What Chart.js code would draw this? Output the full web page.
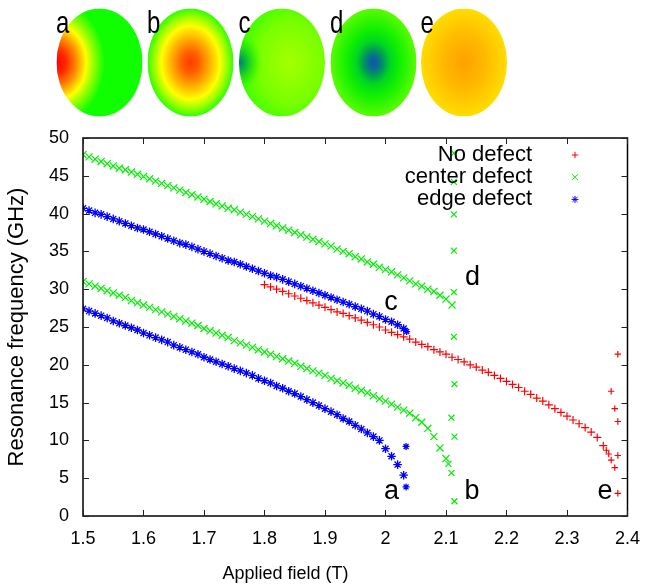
<!DOCTYPE html>
<html>
<head>
<meta charset="utf-8">
<script src="https://cdn.jsdelivr.net/npm/chart.js@4.4.0/dist/chart.umd.min.js"></script>
<style>
  html, body { margin: 0; padding: 0; background: #fff; }
</style>
</head>
<body>
<canvas id="chart" width="652" height="584"></canvas>
<script>
// Field grid step (T) used by the regularly sampled branches
const fieldStep = 0.01;

// No defect: one branch from 1.80 T, then the scattered points near 2.38 T
const noDefectStart = 1.80;
const noDefectFreq = [
  30.6, 30.3, 30.0, 29.7, 29.4, 29.1, 28.8, 28.5, 28.2, 27.9,
  27.6, 27.3, 27.0, 26.8, 26.5, 26.2, 25.9, 25.6, 25.3, 25.0,
  24.6, 24.3, 24.0, 23.7, 23.4, 23.0, 22.7, 22.4, 22.0, 21.7,
  21.4, 21.0, 20.7, 20.4, 20.0, 19.7, 19.3, 19.0, 18.6, 18.2,
  17.8, 17.4, 17.0, 16.5, 16.1, 15.6, 15.2, 14.7, 14.2, 13.7,
  13.2, 12.7, 12.2, 11.7, 11.1, 10.4, 9.3
];
const noDefectExtraField = [2.365, 2.369, 2.373, 2.379, 2.384, 2.373, 2.379, 2.384, 2.384, 2.384];
const noDefectExtraFreq  = [8.7, 8.2, 7.4, 6.4, 21.4, 16.5, 14.2, 12.5, 8.0, 3.0];

// Center defect: two branches from 1.50 T plus the column of points at ~2.11 T
const centerStart = 1.50;
const centerUpperFreq = [
  47.8, 47.5, 47.2, 46.9, 46.6, 46.3, 46.0, 45.8, 45.5, 45.2,
  44.9, 44.6, 44.3, 44.0, 43.7, 43.4, 43.1, 42.8, 42.5, 42.2,
  41.9, 41.6, 41.3, 41.0, 40.7, 40.5, 40.2, 39.9, 39.6, 39.3,
  39.0, 38.7, 38.4, 38.1, 37.8, 37.5, 37.2, 36.9, 36.6, 36.3,
  36.0, 35.7, 35.3, 35.0, 34.7, 34.3, 34.0, 33.6, 33.3, 32.9,
  32.6, 32.3, 31.9, 31.5, 31.1, 30.7, 30.4, 30.0, 29.7, 29.2,
  28.7, 27.9
];
const centerLowerFreq = [
  31.0, 30.7, 30.4, 30.1, 29.8, 29.5, 29.2, 28.9, 28.5, 28.2,
  27.9, 27.6, 27.3, 27.0, 26.7, 26.4, 26.1, 25.8, 25.5, 25.2,
  24.8, 24.5, 24.2, 23.9, 23.6, 23.2, 22.9, 22.6, 22.3, 22.0,
  21.7, 21.4, 21.1, 20.8, 20.5, 20.2, 19.8, 19.5, 19.2, 18.9,
  18.6, 18.2, 17.9, 17.6, 17.3, 16.9, 16.6, 16.3, 15.9, 15.5,
  15.2, 14.8, 14.4, 14.0, 13.6, 13.0, 12.4, 11.6, 10.5, 9.0,
  7.6
];
const centerExtraField = [2.104, 2.113, 2.113, 2.113, 2.113, 2.113, 2.113, 2.114, 2.109, 2.114, 2.109, 2.114];
const centerExtraFreq  = [6.9, 48.0, 44.2, 39.9, 35.1, 29.6, 23.7, 17.45, 13.0, 10.5, 5.7, 1.95];

// Edge defect: two branches from 1.50 T plus a few points at ~2.03 T
const edgeStart = 1.50;
const edgeUpperFreq = [
  40.7, 40.4, 40.1, 39.9, 39.6, 39.3, 39.0, 38.7, 38.4, 38.1,
  37.9, 37.6, 37.3, 37.0, 36.7, 36.4, 36.1, 35.9, 35.6, 35.3,
  35.0, 34.7, 34.4, 34.1, 33.8, 33.6, 33.3, 33.0, 32.7, 32.4,
  32.1, 31.8, 31.6, 31.3, 31.0, 30.7, 30.4, 30.1, 29.8, 29.5,
  29.2, 28.9, 28.6, 28.3, 28.0, 27.7, 27.4, 27.1, 26.7, 26.4,
  26.0, 25.7, 25.3, 24.8
];
const edgeLowerFreq = [
  27.4, 27.1, 26.8, 26.5, 26.2, 25.8, 25.5, 25.2, 24.9, 24.6,
  24.2, 23.9, 23.6, 23.3, 23.0, 22.6, 22.3, 22.0, 21.7, 21.4,
  21.0, 20.7, 20.4, 20.1, 19.8, 19.5, 19.2, 18.9, 18.6, 18.2,
  17.9, 17.6, 17.2, 16.9, 16.5, 16.2, 15.8, 15.4, 15.0, 14.6,
  14.2, 13.8, 13.4, 12.9, 12.5, 12.0, 11.5, 11.0, 10.5, 10.0,
  8.9, 7.9, 6.8, 5.4
];
const edgeExtraField = [2.035, 2.034, 2.034];
const edgeExtraFreq  = [24.4, 9.2, 3.85];

// Mode labels inside the plot (data coordinates of the letter baseline)
const modeLabels = ['a', 'b', 'c', 'd', 'e'];
const modeLabelField = [2.010, 2.143, 2.009, 2.144, 2.363];
const modeLabelFreq  = [2.2, 2.2, 27.3, 30.6, 2.2];

const seriesLabels = ['No defect', 'center defect', 'edge defect'];

// Build {x,y} points from a regular field grid plus irregular extras
function gridPoints(start, freqs) {
  return freqs.map((f, i) => ({ x: +(start + i * fieldStep).toFixed(3), y: f, branch: true }));
}
function pairPoints(fields, freqs) {
  return fields.map((b, i) => ({ x: b, y: freqs[i], branch: false }));
}

const FONT = '"Liberation Sans", Arial, sans-serif';

// Disk images at the top (mode profiles), drawn as radial gradients
const diskCx = [99.5, 190.5, 282, 373.5, 464];
const diskCy = 62.5, diskRx = 43, diskRy = 54;
const diskLayers = [
  [{ x: -43, y: 0, r: 48, stops: [[0, '#ff0000'], [0.2, '#ff2a00'], [0.42, '#ff9000'], [0.62, '#ffff00'], [0.78, '#90ff00'], [1, '#10ff00']] }],
  [{ x: 0, y: 0, r: 43, stops: [[0, '#ff3c00'], [0.2, '#ff6000'], [0.45, '#ffb000'], [0.68, '#ffff00'], [0.85, '#99ff00'], [1, '#30ff00']] }],
  [{ x: 8, y: 0, r: 55, stops: [[0, '#a6ff00'], [0.6, '#77ff00'], [1, '#33ff00']] },
   { x: -43, y: 0, r: 24, stops: [[0, 'rgba(0,120,120,1)'], [0.3, 'rgba(0,175,70,0.85)'], [0.7, 'rgba(20,230,0,0.45)'], [1, 'rgba(60,255,0,0)']] }],
  [{ x: 0, y: 0, r: 48, stops: [[0, '#0a5aa0'], [0.1, '#0a6a96'], [0.22, '#00a050'], [0.36, '#00d820'], [0.55, '#10f000'], [1, '#70ff00']] }],
  [{ x: 0, y: 0, r: 45, stops: [[0, '#ffa000'], [0.5, '#ffbb00'], [1, '#ffe000']] }]
];

const disksPlugin = {
  id: 'disks',
  afterDraw(chart) {
    const ctx = chart.ctx;
    diskCx.forEach((cx, i) => {
      ctx.save();
      ctx.translate(cx, diskCy);
      ctx.scale(1, diskRy / diskRx);
      ctx.beginPath();
      ctx.arc(0, 0, diskRx, 0, Math.PI * 2);
      ctx.clip();
      diskLayers[i].forEach(L => {
        const g = ctx.createRadialGradient(L.x, L.y, 0, L.x, L.y, L.r);
        L.stops.forEach(([o, c]) => g.addColorStop(o, c));
        ctx.fillStyle = g;
        ctx.fillRect(-diskRx, -diskRx, 2 * diskRx, 2 * diskRx);
      });
      ctx.restore();
      // letter in the top-left corner of each image
      ctx.save();
      ctx.translate(cx - 43.5, 32.7);
      ctx.scale(1, 1.3);
      ctx.font = '24px ' + FONT;
      ctx.fillStyle = '#000';
      ctx.textAlign = 'left';
      ctx.textBaseline = 'alphabetic';
      ctx.fillText(modeLabels[i], 0, 0);
      ctx.restore();
    });
  }
};

// Border box, inward ticks, mode letters, key and x title
const framePlugin = {
  id: 'frame',
  afterDatasetsDraw(chart) {
    const ctx = chart.ctx;
    const { left, right, top, bottom } = chart.chartArea;
    const xs = chart.scales.x, ys = chart.scales.y;
    ctx.save();
    ctx.strokeStyle = '#000';
    ctx.lineWidth = 1.5;
    ctx.strokeRect(left, top, right - left, bottom - top);
    ctx.lineWidth = 1;
    ctx.strokeStyle = '#222';
    ctx.beginPath();
    xs.ticks.forEach(t => {
      const px = Math.round(xs.getPixelForValue(t.value)) + 0.5;
      ctx.moveTo(px, bottom); ctx.lineTo(px, bottom - 6);
      ctx.moveTo(px, top); ctx.lineTo(px, top + 6);
    });
    ys.ticks.forEach(t => {
      const py = Math.round(ys.getPixelForValue(t.value)) + 0.5;
      ctx.moveTo(left, py); ctx.lineTo(left + 6, py);
      ctx.moveTo(right, py); ctx.lineTo(right - 6, py);
    });
    ctx.stroke();

    // letters marking the mode profiles
    ctx.fillStyle = '#000';
    ctx.font = '27px ' + FONT;
    ctx.textAlign = 'center';
    ctx.textBaseline = 'alphabetic';
    modeLabels.forEach((s, i) => {
      ctx.fillText(s, xs.getPixelForValue(modeLabelField[i]), ys.getPixelForValue(modeLabelFreq[i]));
    });

    // key, text right-aligned with the symbol on its right
    ctx.font = '22px ' + FONT;
    ctx.textAlign = 'right';
    ctx.textBaseline = 'middle';
    chart.data.datasets.forEach((ds, i) => {
      const y = 155 + i * 22.2;
      ctx.fillStyle = '#000';
      ctx.fillText(ds.label, 532, y);
      ctx.strokeStyle = ds.borderColor;
      ctx.fillStyle = ds.borderColor;
      ctx.lineWidth = 1;
      Chart.helpers.drawPoint(ctx, { pointStyle: ds.pointStyle, radius: ds.keyRadius, borderWidth: 1, rotation: 0 }, 575, y);
    });

    // x axis title
    ctx.fillStyle = '#000';
    ctx.font = '18px ' + FONT;
    ctx.textAlign = 'center';
    ctx.textBaseline = 'alphabetic';
    ctx.fillText('Applied field (T)', 285.5, 579);
    ctx.restore();
  }
};

// branch points are drawn a bit larger so they merge into bands as in the original
const radiusBy = (branchR, loneR) => c => (c.raw && c.raw.branch ? branchR : loneR);

const datasets = [
  {
    label: seriesLabels[0],
    data: gridPoints(noDefectStart, noDefectFreq).concat(pairPoints(noDefectExtraField, noDefectExtraFreq)),
    borderColor: '#ff0000', backgroundColor: '#ff0000',
    pointStyle: 'cross', pointRadius: radiusBy(4, 3.2), keyRadius: 3.2,
    borderWidth: 1.2, order: 3
  },
  {
    label: seriesLabels[1],
    data: gridPoints(centerStart, centerUpperFreq)
      .concat(gridPoints(centerStart, centerLowerFreq))
      .concat(pairPoints(centerExtraField, centerExtraFreq)),
    borderColor: '#00ee00', backgroundColor: '#00ee00',
    pointStyle: 'crossRot', pointRadius: radiusBy(5, 4.2), keyRadius: 4.2,
    borderWidth: 1.2, order: 2
  },
  {
    label: seriesLabels[2],
    data: gridPoints(edgeStart, edgeUpperFreq)
      .concat(gridPoints(edgeStart, edgeLowerFreq))
      .concat(pairPoints(edgeExtraField, edgeExtraFreq)),
    borderColor: '#0000ff', backgroundColor: '#0000ff',
    pointStyle: 'star', pointRadius: radiusBy(4.3, 3.5), keyRadius: 3.5,
    borderWidth: 1.3, order: 1
  }
];

new Chart(document.getElementById('chart'), {
  type: 'scatter',
  data: { datasets },
  options: {
    responsive: false,
    animation: false,
    events: [],
    layout: { padding: { top: 138, right: 20, left: 0, bottom: 0 } },
    plugins: { legend: { display: false }, tooltip: { enabled: false } },
    scales: {
      x: {
        type: 'linear', min: 1.5, max: 2.4,
        grid: { display: false, drawTicks: false },
        border: { display: false },
        ticks: {
          stepSize: 0.1, padding: 12, color: '#000',
          font: { family: FONT, size: 18 },
          callback: v => String(+v.toFixed(1))
        },
        afterFit: s => { s.height = 68; }
      },
      y: {
        type: 'linear', min: 0, max: 50,
        grid: { display: false, drawTicks: false },
        border: { display: false },
        ticks: {
          stepSize: 5, padding: 14, color: '#000',
          font: { family: FONT, size: 18 }
        },
        title: {
          display: true, text: 'Resonance frequency (GHz)', color: '#000',
          font: { family: FONT, size: 22 }, padding: { top: 4, bottom: 0 }
        },
        afterFit: s => { s.width = 83; }
      }
    }
  },
  plugins: [disksPlugin, framePlugin]
});
</script>
</body>
</html>
